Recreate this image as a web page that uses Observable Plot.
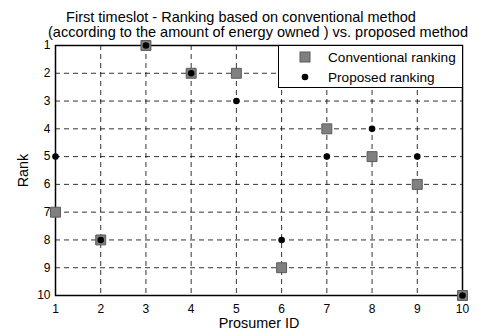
<!DOCTYPE html>
<html>
<head>
<meta charset="utf-8">
<script src="https://cdn.jsdelivr.net/npm/d3@7"></script>
<script src="https://cdn.jsdelivr.net/npm/@observablehq/plot@0.6"></script>
<style>
  html, body { margin: 0; padding: 0; background: #fff; }
  #wrap { position: relative; width: 486px; height: 334px; font-family: Arial, "Liberation Sans", sans-serif; }
  #legend { position: absolute; left: 278px; top: 45px; width: 185px; height: 43px; background: #fff;
            border: 1px solid #000; box-sizing: border-box; font-size: 13.6px; color: #000; }
  .item { position: absolute; left: 0; display: flex; align-items: center; }
  .item svg { margin-left: 20px; margin-right: 17px; }
</style>
</head>
<body>
<div id="wrap">
  <div id="chart"></div>
  <div id="legend"></div>
</div>
<script>
const prosumerIds = [1, 2, 3, 4, 5, 6, 7, 8, 9, 10];
const conventionalRank = [7, 8, 1, 2, 2, 9, 4, 5, 6, 10];
const proposedRank = [5, 8, 1, 2, 3, 8, 5, 4, 5, 10];
const rankTicks = [1, 2, 3, 4, 5, 6, 7, 8, 9, 10];
const titleLines = [
  "First timeslot - Ranking based on conventional method",
  "(according to the amount of energy owned ) vs. proposed method"
];
const seriesNames = ["Conventional ranking", "Proposed ranking"];

const conv = prosumerIds.map((id, i) => ({id, rank: conventionalRank[i]}));
const prop = prosumerIds.map((id, i) => ({id, rank: proposedRank[i]}));
const inner = rankTicks.slice(1, -1);

const chart = Plot.plot({
  width: 486,
  height: 334,
  marginLeft: 55,
  marginRight: 24,
  marginTop: 45,
  marginBottom: 39,
  style: {fontFamily: "Arial, 'Liberation Sans', sans-serif", fontSize: "12px", color: "#000", background: "#fff"},
  x: {domain: [1, 10], ticks: prosumerIds},
  y: {domain: [1, 10], reverse: true, ticks: rankTicks},
  marks: [
    Plot.gridX(inner, {stroke: "#000", strokeOpacity: 0.8, strokeDasharray: "5,4"}),
    Plot.gridY(inner, {stroke: "#000", strokeOpacity: 0.8, strokeDasharray: "5,4"}),
    Plot.axisX(prosumerIds, {tickSize: 0, tickPadding: 9, fontSize: 12, label: "Prosumer ID", labelAnchor: "center", labelArrow: "none", labelOffset: 32}),
    Plot.axisY(rankTicks, {tickSize: 0, tickPadding: 5, fontSize: 12, label: "Rank", labelAnchor: "center", labelArrow: "none", labelOffset: 38}),
    Plot.frame({stroke: "#000", strokeWidth: 1.5}),
    Plot.dot(conv, {x: "id", y: "rank", symbol: "square", r: 5.6, fill: "#808080", stroke: "#5a5a5a", strokeWidth: 1}),
    Plot.dot(prop, {x: "id", y: "rank", r: 3.3, fill: "#000", stroke: "none"}),
    Plot.text([titleLines[0]], {frameAnchor: "top", dy: -33.5, dx: -18, fontSize: 14.5, fill: "#000"}),
    Plot.text([titleLines[1]], {frameAnchor: "top", dy: -19, dx: -1, fontSize: 14.5, fill: "#000"})
  ]
});
chart.querySelectorAll("g[aria-label='x-axis label'] text, g[aria-label='y-axis label'] text").forEach(t => t.setAttribute("font-size", "14.4"));
document.getElementById("chart").appendChild(chart);

const legend = document.getElementById("legend");
seriesNames.forEach((name, i) => {
  const div = document.createElement("div");
  div.className = "item";
  div.style.top = (i === 0 ? 3 : 23) + "px";
  const sw = d3.create("svg").attr("width", 12).attr("height", 16);
  if (i === 0) {
    sw.append("rect").attr("x", 1).attr("y", 3).attr("width", 10).attr("height", 10)
      .attr("fill", "#808080").attr("stroke", "#5a5a5a");
  } else {
    sw.append("circle").attr("cx", 6).attr("cy", 8).attr("r", 3.3).attr("fill", "#000");
  }
  div.appendChild(sw.node());
  const span = document.createElement("span");
  span.textContent = name;
  div.appendChild(span);
  legend.appendChild(div);
});
</script>
</body>
</html>
